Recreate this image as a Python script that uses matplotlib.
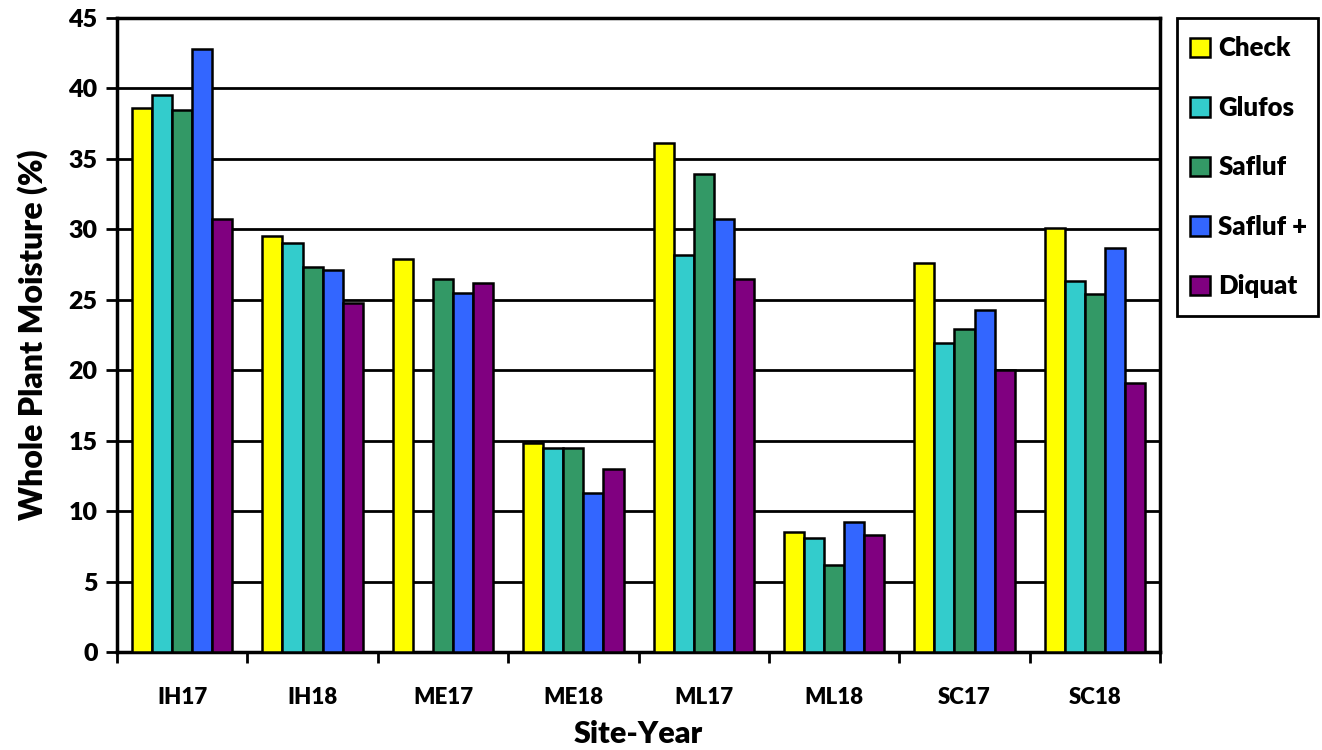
import numpy as np
import matplotlib
matplotlib.use("Agg")
import matplotlib.pyplot as plt
from matplotlib.patches import Rectangle
from matplotlib.ticker import FixedLocator, NullFormatter

plt.rcParams['font.family'] = ['Lato', 'DejaVu Sans']
W = "heavy"

sites = ["IH17", "IH18", "ME17", "ME18", "ML17", "ML18", "SC17", "SC18"]
treatments = ["Check", "Glufos", "Safluf", "Safluf +", "Diquat"]
check = [38.6, 29.5, 27.9, 14.8, 36.1, 8.5, 27.6, 30.1]
glufos = [39.5, 29.0, np.nan, 14.5, 28.2, 8.1, 21.9, 26.3]
safluf = [38.5, 27.3, 26.5, 14.5, 33.9, 6.2, 22.9, 25.4]
safluf_plus = [42.8, 27.1, 25.5, 11.3, 30.7, 9.2, 24.3, 28.7]
diquat = [30.7, 24.8, 26.2, 13.0, 26.5, 8.3, 20.0, 19.1]
colors = ["#FFFF00", "#33CCCC", "#339966", "#3366FF", "#800080"]

series = [check, glufos, safluf, safluf_plus, diquat]

fig = plt.figure(figsize=(13.22, 7.5), dpi=100)
ax = fig.add_axes([0.0885, 0.1307, 0.789, 0.8453])

x = np.arange(len(sites))
width = 0.154
for i, (vals, name, col) in enumerate(zip(series, treatments, colors)):
    offs = (i - 2) * width
    ax.bar(x + offs, vals, width, color=col, edgecolor="black",
           linewidth=1.8, label=name, zorder=3)

ax.set_xlim(-0.5, len(sites) - 0.5)
ax.set_ylim(0, 45)
ax.set_yticks(np.arange(0, 46, 5))
ax.yaxis.grid(True, color="black", linewidth=2, zorder=0)
ax.set_axisbelow(True)

ax.set_xticks(x)
ax.set_xticklabels(sites)
ax.xaxis.set_minor_locator(FixedLocator(np.arange(-0.5, len(sites) + 0.5, 1)))
ax.xaxis.set_minor_formatter(NullFormatter())
ax.tick_params(axis="x", which="major", length=0, pad=25, labelsize=16)
ax.tick_params(axis="x", which="minor", length=8, width=2, direction="out")
ax.tick_params(axis="y", which="major", length=8, width=2, direction="out",
               labelsize=18, pad=6)
for lab in ax.get_xticklabels() + ax.get_yticklabels():
    lab.set_fontweight(W)

for s in ax.spines.values():
    s.set_linewidth(2.5)
    s.set_color("black")

ax.set_ylabel("Whole Plant Moisture (%)", fontsize=23, fontweight=W, labelpad=15)
ax.set_xlabel("Site-Year", fontsize=22, fontweight=W, labelpad=9)

# legend entries without their own frame; a separate box is drawn around them
leg = fig.legend(loc="upper left", bbox_to_anchor=(0.8865, 0.976),
                 frameon=False, prop={"weight": W, "size": 18.5},
                 handlelength=0.78, handleheight=0.78, handletextpad=0.3,
                 labelspacing=1.38, borderpad=0.72, borderaxespad=0)
for h in leg.legend_handles:
    h.set_linewidth(1.8)

fig.patches.append(Rectangle((0.8903, 0.5787), 0.1067, 0.3973,
                             transform=fig.transFigure, fill=False,
                             edgecolor="black", linewidth=2))

fig.savefig("out.png", dpi=100)
